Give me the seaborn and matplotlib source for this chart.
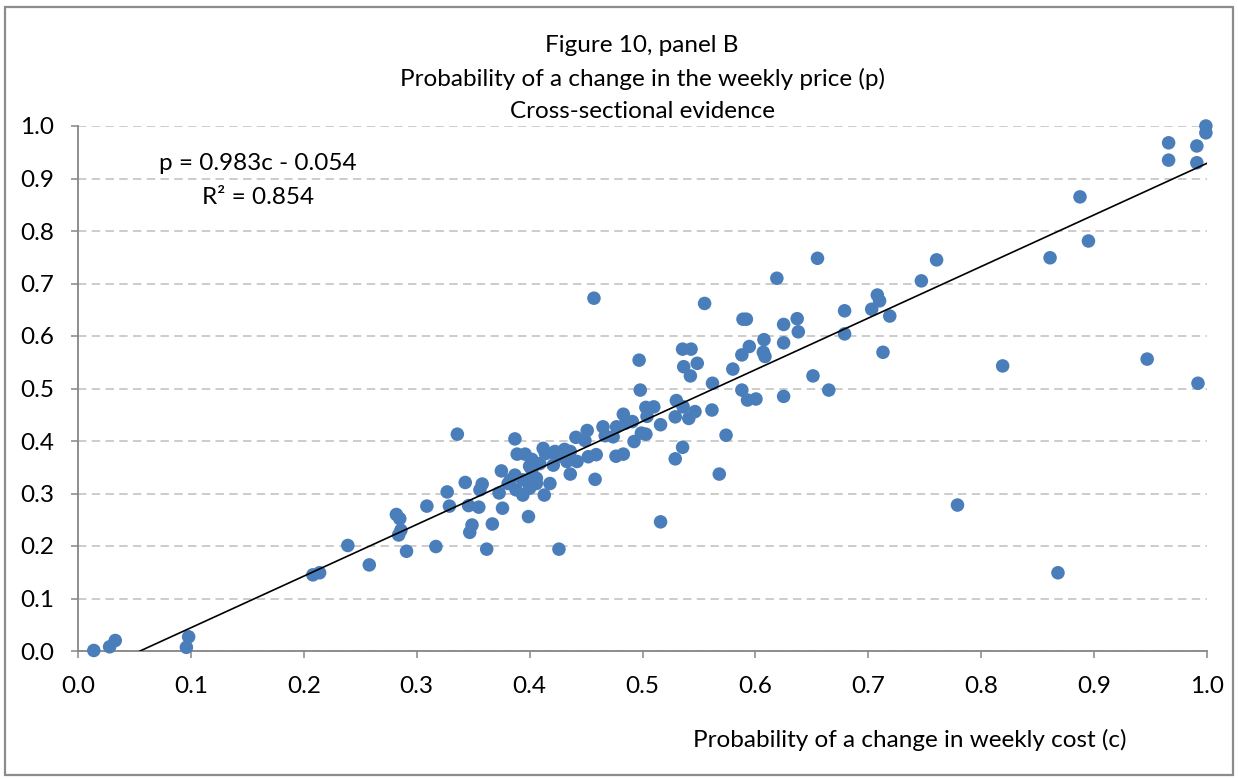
import numpy as np
import pandas as pd
import matplotlib
matplotlib.use("Agg")
import matplotlib.pyplot as plt
import seaborn as sns
from matplotlib.patches import Rectangle

# ---------------- data ----------------
cost_change = [
    0.014, 0.028, 0.033, 0.096, 0.098, 0.208, 0.214, 0.239, 0.258, 0.282,
    0.285, 0.286, 0.284, 0.291, 0.309, 0.317, 0.327, 0.329, 0.336, 0.343,
    0.346, 0.347, 0.349, 0.355, 0.356, 0.358, 0.362, 0.367, 0.373, 0.375,
    0.376, 0.381, 0.383, 0.387, 0.387, 0.388, 0.389, 0.394, 0.394, 0.396,
    0.399, 0.400, 0.400, 0.402, 0.402, 0.403, 0.406, 0.406, 0.409, 0.412,
    0.413, 0.414, 0.418, 0.421, 0.4225, 0.424, 0.426, 0.431, 0.433, 0.436,
    0.436, 0.441, 0.442, 0.449, 0.451, 0.452, 0.457, 0.458, 0.459, 0.465,
    0.467, 0.474, 0.477, 0.4765, 0.483, 0.483, 0.485, 0.491, 0.4925, 0.497,
    0.498, 0.499, 0.503, 0.503, 0.510, 0.504, 0.516, 0.516, 0.529, 0.530,
    0.529, 0.5355, 0.536, 0.5355, 0.543, 0.5365, 0.541, 0.5424, 0.5465, 0.5485,
    0.555, 0.5615, 0.562, 0.568, 0.574, 0.580, 0.589, 0.592, 0.588, 0.588,
    0.593, 0.5946, 0.6005, 0.655, 0.619, 0.7605, 0.747, 0.679, 0.708, 0.710,
    0.703, 0.719, 0.625, 0.637, 0.638, 0.6076, 0.625, 0.679, 0.607, 0.6085,
    0.713, 0.651, 0.665, 0.625, 0.779, 0.819, 0.861, 0.868, 0.8875, 0.895,
    0.947, 0.966, 0.966, 0.991, 0.991, 0.992, 0.999, 0.999,
]
price_change = [
    0.001, 0.008, 0.020, 0.007, 0.027, 0.145, 0.149, 0.201, 0.164, 0.260,
    0.252, 0.230, 0.221, 0.190, 0.276, 0.199, 0.303, 0.276, 0.413, 0.321,
    0.277, 0.226, 0.240, 0.274, 0.307, 0.318, 0.194, 0.242, 0.301, 0.343,
    0.272, 0.319, 0.326, 0.335, 0.404, 0.307, 0.375, 0.326, 0.297, 0.375,
    0.256, 0.310, 0.352, 0.365, 0.345, 0.332, 0.329, 0.319, 0.357, 0.386,
    0.297, 0.376, 0.319, 0.354, 0.380, 0.370, 0.194, 0.384, 0.361, 0.380,
    0.337, 0.407, 0.361, 0.401, 0.420, 0.370, 0.672, 0.327, 0.374, 0.427,
    0.410, 0.408, 0.427, 0.371, 0.375, 0.451, 0.434, 0.437, 0.399, 0.554,
    0.497, 0.415, 0.413, 0.464, 0.465, 0.447, 0.431, 0.246, 0.446, 0.477,
    0.366, 0.388, 0.465, 0.575, 0.575, 0.5415, 0.443, 0.524, 0.456, 0.548,
    0.662, 0.459, 0.510, 0.337, 0.411, 0.537, 0.632, 0.632, 0.564, 0.497,
    0.478, 0.580, 0.480, 0.748, 0.710, 0.745, 0.705, 0.648, 0.678, 0.667,
    0.651, 0.638, 0.622, 0.633, 0.608, 0.593, 0.587, 0.604, 0.569, 0.561,
    0.569, 0.524, 0.497, 0.485, 0.278, 0.543, 0.749, 0.149, 0.865, 0.781,
    0.556, 0.968, 0.935, 0.962, 0.930, 0.510, 1.000, 0.987,
]

slope = 0.983
intercept = -0.054
r_squared = 0.854

title_lines = ["Figure 10, panel B",
               "Probability of a change in the weekly price (p)",
               "Cross-sectional evidence"]
x_label = "Probability of a change in weekly cost (c)"
tick_values = [0.0, 0.1, 0.2, 0.3, 0.4, 0.5, 0.6, 0.7, 0.8, 0.9, 1.0]
tick_labels = ["0.0", "0.1", "0.2", "0.3", "0.4", "0.5", "0.6", "0.7", "0.8", "0.9", "1.0"]

# ---------------- figure ----------------
plt.rcParams['font.family'] = ['Lato', 'DejaVu Sans']

W, H = 1238, 779
fig = plt.figure(figsize=(W / 100, H / 100), dpi=100)
fig.patch.set_facecolor("white")

def fx(px):
    return px / W

def fy(py):
    return 1 - py / H

ax = fig.add_axes([fx(78), fy(651), fx(1207) - fx(78), fy(126) - fy(651)])

df = pd.DataFrame({"c": cost_change, "p": price_change})
sns.scatterplot(data=df, x="c", y="p", ax=ax, s=95, color="#4A7EBB",
                edgecolor="none", linewidth=0, zorder=3, clip_on=False)

c_start = -intercept / slope
line_df = pd.DataFrame({"c": [c_start, 1.0]})
line_df["p"] = slope * line_df["c"] + intercept
sns.lineplot(data=line_df, x="c", y="p", ax=ax, color="black", linewidth=1.2,
             zorder=4)

ax.set_xlim(0, 1)
ax.set_ylim(0, 1)
ax.set_xticks(tick_values)
ax.set_xticklabels(tick_labels)
ax.set_yticks(tick_values)
ax.set_yticklabels(tick_labels)
ax.set_xlabel("")
ax.set_ylabel("")

ax.yaxis.grid(True, color="#BFBFBF", linestyle=(0, (5.5, 3.5)), linewidth=1.1, zorder=0)
ax.xaxis.grid(False)
ax.set_axisbelow(True)

for s in ["top", "right"]:
    ax.spines[s].set_visible(False)
for s in ["left", "bottom"]:
    ax.spines[s].set_color("#868686")
    ax.spines[s].set_linewidth(1.3)
    ax.spines[s].set_zorder(2)

FS = 17.5
ax.tick_params(axis="x", direction="out", length=5, width=1.1, color="#868686",
               labelsize=FS, pad=13, labelcolor="black")
ax.tick_params(axis="y", direction="out", length=5, width=1.1, color="#868686",
               labelsize=FS, pad=12, labelcolor="black")

# titles
for i, line in enumerate(title_lines):
    fig.text(fx(642), fy(46 + 32.5 * i), line, ha="center", va="center",
             fontsize=FS, color="black")

# equation
fig.text(fx(258), fy(163), f"p = {slope:.3f}c - {abs(intercept):.3f}",
         ha="center", va="center", fontsize=FS)
fig.text(fx(258), fy(197), f"R² = {r_squared:.3f}", ha="center", va="center",
         fontsize=FS)

# x label
fig.text(fx(910), fy(740), x_label, ha="center", va="center", fontsize=FS)

# outer border
fig.patches.append(Rectangle((fx(5), fy(775)), fx(1233) - fx(5), fy(7) - fy(775),
                             transform=fig.transFigure, fill=False,
                             edgecolor="#8C8C8C", linewidth=1.6))

fig.savefig("out.png", dpi=100)
